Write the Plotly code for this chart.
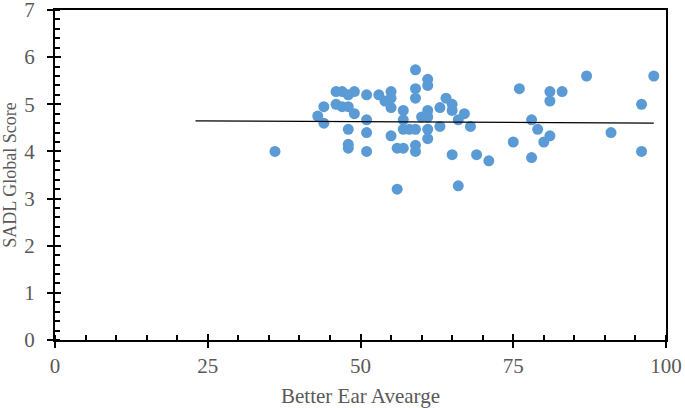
import plotly.graph_objects as go

# Better ear average (x) vs SADL global score (y)
better_ear = [36, 43, 44, 44, 46, 47, 48, 49, 46, 47, 48, 49, 48, 48, 48,
              51, 51, 51, 51, 53, 54, 55, 55, 55, 55, 56, 57, 56, 57, 57,
              57, 58, 59, 59, 59, 59, 59, 59, 60, 61, 61, 61, 61, 61, 61,
              63, 63, 64, 65, 65, 65, 66, 66, 67, 68, 69, 71, 75, 76, 78,
              78, 79, 80, 81, 81, 81, 83, 87, 91, 96, 96, 98]
sadl_score = [4.00, 4.75, 4.95, 4.60, 5.27, 5.27, 5.20, 5.27, 5.00, 4.95, 4.95, 4.80, 4.47, 4.15, 4.07,
              5.20, 4.67, 4.40, 4.00, 5.20, 5.07, 5.27, 5.13, 4.93, 4.33, 4.07, 4.07, 3.20, 4.87, 4.67,
              4.47, 4.47, 4.47, 5.73, 5.33, 5.13, 4.13, 4.00, 4.73, 5.53, 5.40, 4.87, 4.73, 4.47, 4.27,
              4.93, 4.53, 5.13, 5.00, 4.87, 3.93, 4.67, 3.27, 4.80, 4.53, 3.93, 3.80, 4.20, 5.33, 4.67,
              3.87, 4.47, 4.20, 5.27, 5.07, 4.33, 5.27, 5.60, 4.40, 5.00, 4.00, 5.60]

# linear trendline end points
trend_x = [23, 98]
trend_y = [4.65, 4.60]

FONT = "Liberation Serif"
GREY = "#595959"
tick_font = dict(family=FONT, size=21, color=GREY)

fig = go.Figure()
fig.add_trace(go.Scatter(
    x=better_ear, y=sadl_score, mode="markers",
    marker=dict(color="#5B9BD5", size=11, line=dict(width=0)),
    showlegend=False,
))
fig.add_trace(go.Scatter(
    x=trend_x, y=trend_y, mode="lines",
    line=dict(color="black", width=1.3),
    showlegend=False,
))
# empty trace so the overlay axes (inner half of the major ticks) get drawn
fig.add_trace(go.Scatter(x=[], y=[], xaxis="x2", yaxis="y2", showlegend=False))

fig.update_layout(
    width=685, height=408,
    margin=dict(l=55, r=19, t=10, b=68),
    paper_bgcolor="white", plot_bgcolor="white",
    font=dict(family=FONT, color=GREY, size=20),
    xaxis=dict(
        range=[0, 100], tickmode="linear", tick0=0, dtick=25, automargin=False,
        showgrid=False, zeroline=False,
        showline=True, linecolor="black", linewidth=2, mirror=True,
        ticks="outside", ticklen=6, tickwidth=2, tickcolor="black",
        minor=dict(dtick=5, ticks="inside", ticklen=5, tickwidth=1.5, tickcolor="black", showgrid=False),
        tickfont=tick_font, ticklabelstandoff=0, ticklabeloverflow="allow",
        title=dict(text="Better Ear Avearge", font=dict(family=FONT, size=21, color=GREY), standoff=11),
    ),
    yaxis=dict(
        range=[0, 7], tickmode="linear", tick0=0, dtick=1, automargin=False,
        showgrid=False, zeroline=False,
        showline=True, linecolor="black", linewidth=2, mirror=True,
        ticks="outside", ticklen=6, tickwidth=2, tickcolor="black",
        minor=dict(dtick=0.2, ticks="inside", ticklen=5, tickwidth=1.5, tickcolor="black", showgrid=False),
        tickfont=tick_font, ticklabelstandoff=8, ticklabeloverflow="allow",
        title=dict(text="SADL Global Score", font=dict(family=FONT, size=18, color=GREY), standoff=6),
    ),
    xaxis2=dict(
        overlaying="x", anchor="y2", range=[0, 100], tickmode="linear", tick0=0, dtick=25,
        ticks="inside", ticklen=6, tickwidth=2, tickcolor="black", automargin=False,
        showticklabels=False, showgrid=False, zeroline=False, showline=False,
    ),
    yaxis2=dict(
        overlaying="y", anchor="x2", range=[0, 7], tickmode="linear", tick0=0, dtick=1,
        ticks="inside", ticklen=6, tickwidth=2, tickcolor="black", automargin=False,
        showticklabels=False, showgrid=False, zeroline=False, showline=False,
    ),
)

# drop the browser's default 8px body margin so the figure sits at the page corner
fig.write_html("out.html", config={"displayModeBar": False},
               post_script="document.body.style.margin='0';")
